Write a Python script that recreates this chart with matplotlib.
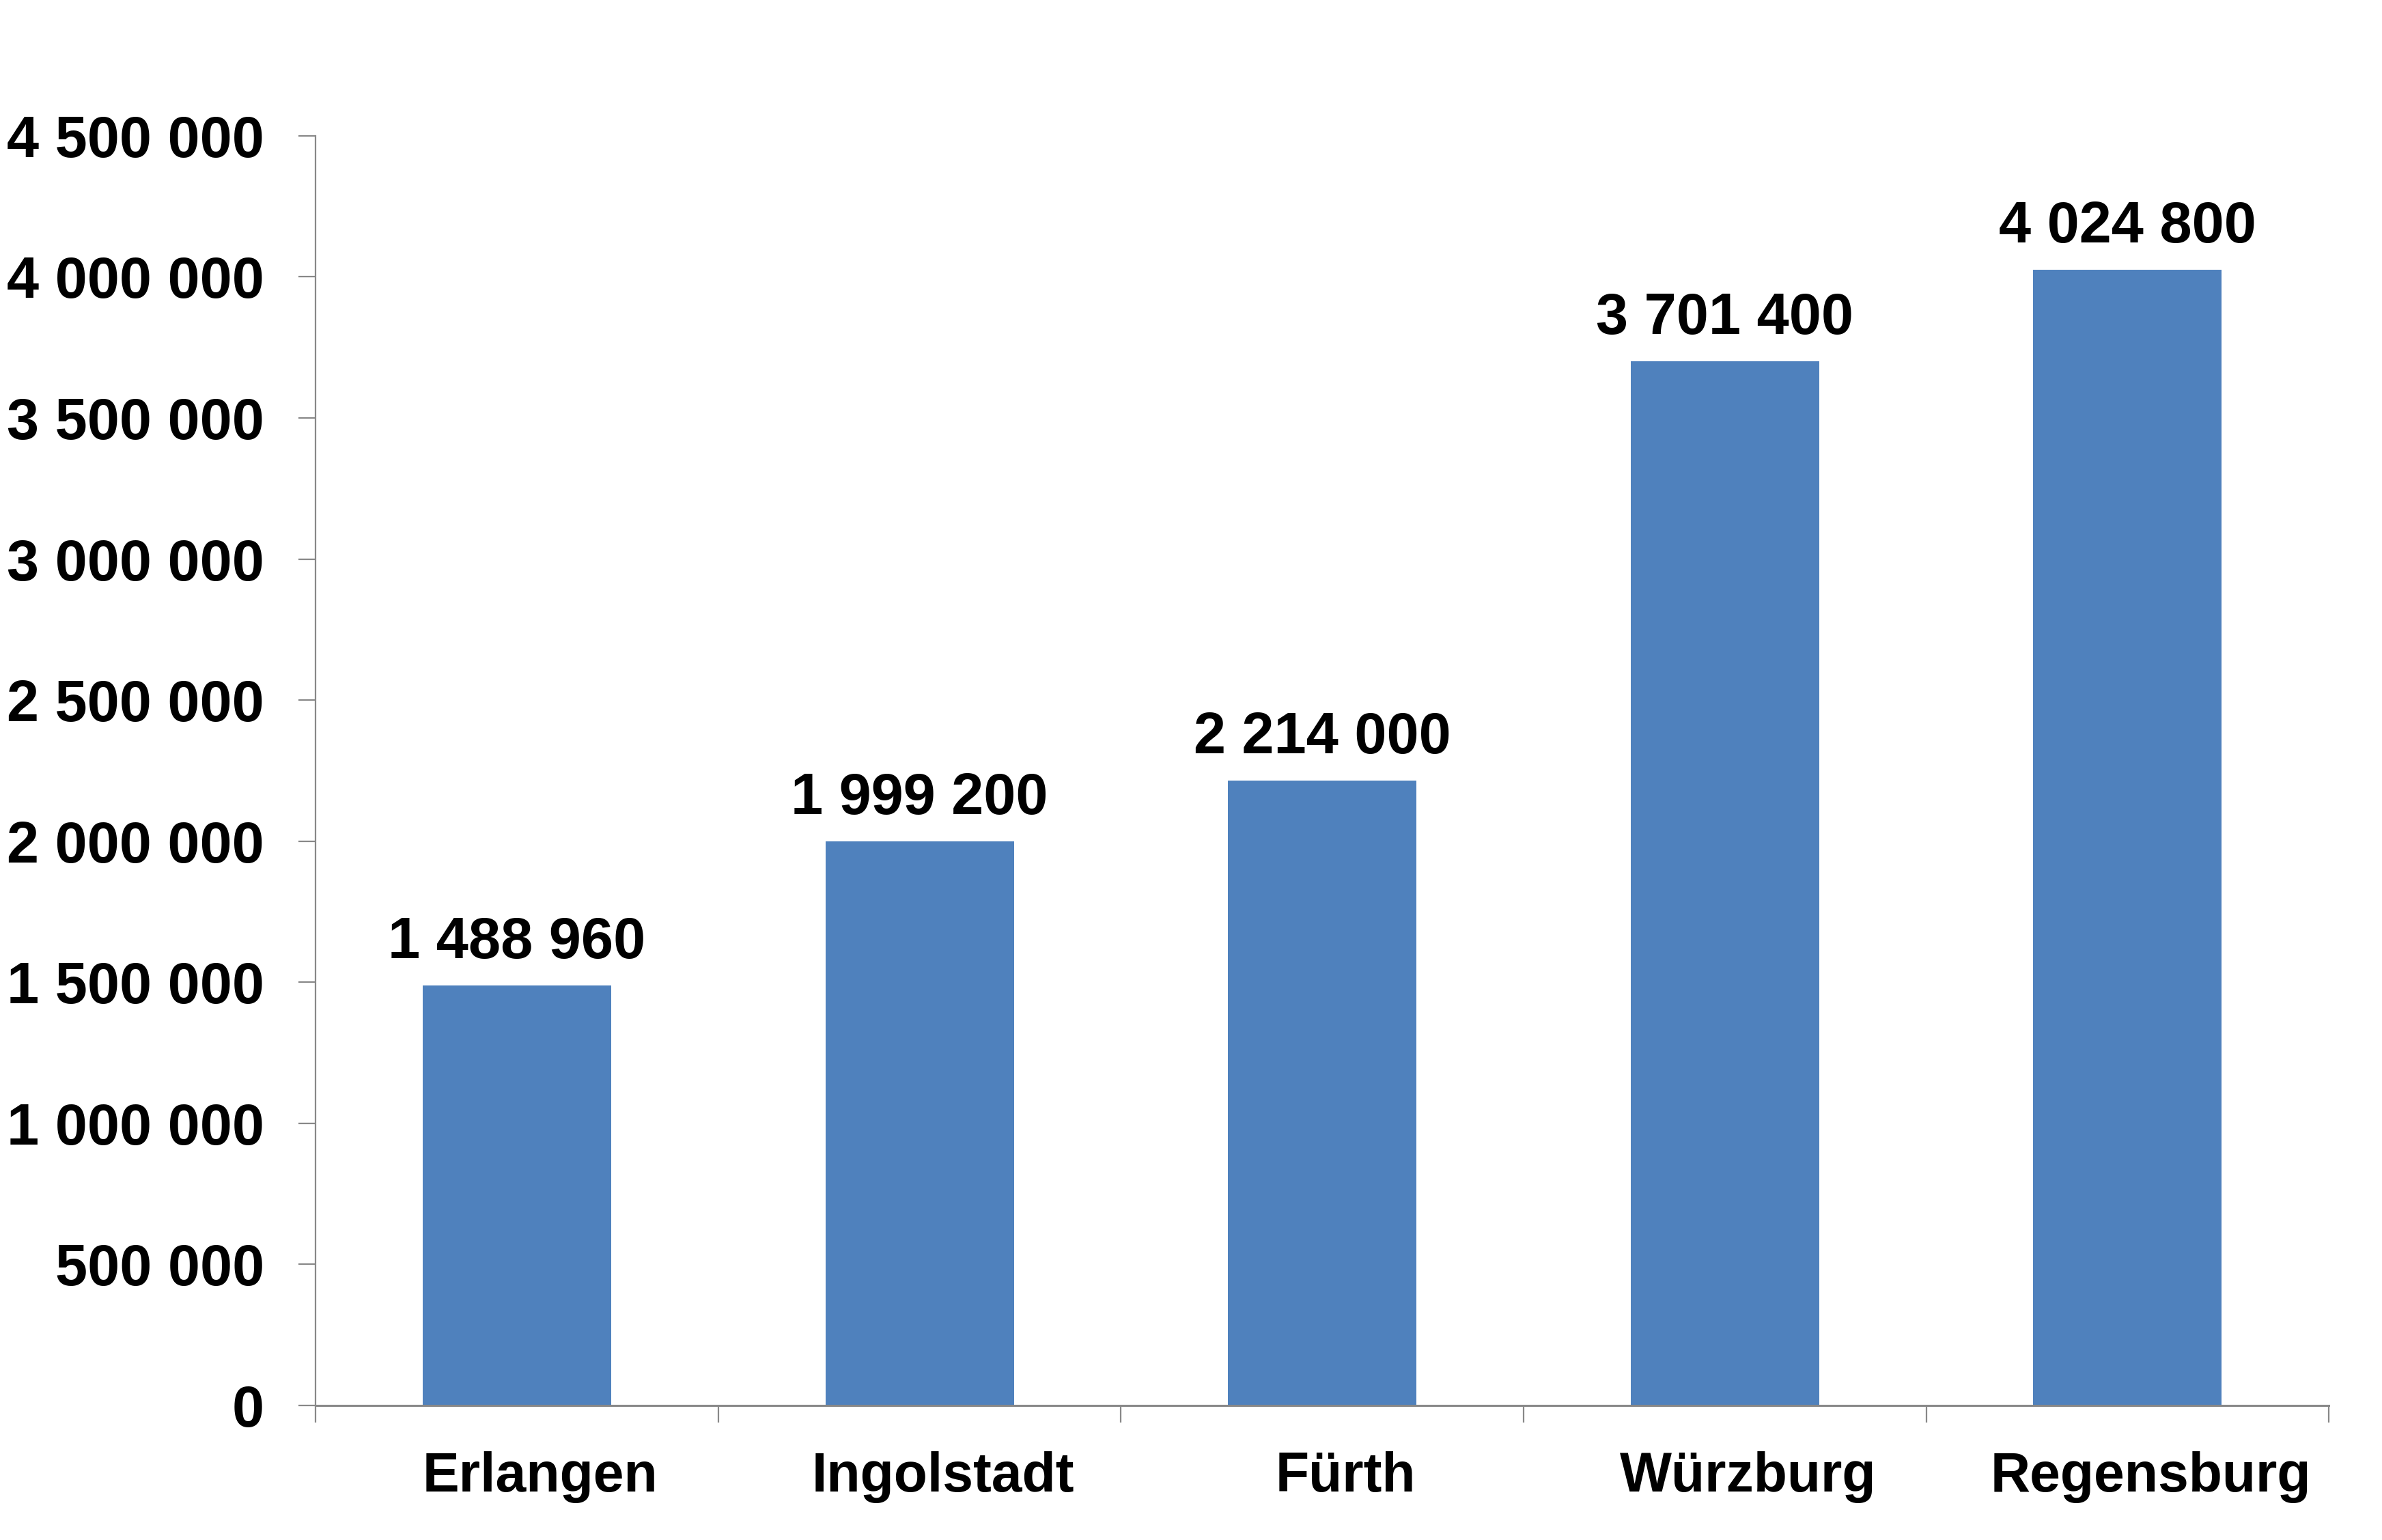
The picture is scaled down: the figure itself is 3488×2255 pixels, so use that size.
import matplotlib.pyplot as plt
import matplotlib.transforms as mtransforms
from matplotlib.ticker import FuncFormatter, FixedLocator

plt.rcParams['font.family'] = ['Liberation Sans', 'DejaVu Sans']
plt.rcParams['font.weight'] = 'bold'

# Data
cities = ["Erlangen", "Ingolstadt", "Fürth", "Würzburg", "Regensburg"]
values = [1488960, 1999200, 2214000, 3701400, 4024800]
y_ticks = [0, 500000, 1000000, 1500000, 2000000, 2500000, 3000000, 3500000, 4000000, 4500000]


def fmt(v, pos=None):
    return f"{int(v):,}".replace(",", " ")


fig = plt.figure(figsize=(34.88, 22.55), dpi=100)
ax = fig.add_axes([0.1325, 0.0874, 0.8452, 0.8244])

x = list(range(len(cities)))
bars = ax.bar(x, values, width=0.468, color="#4F81BD", zorder=2)

# value labels above the bars
for xi, v in zip(x, values):
    ax.annotate(fmt(v), (xi, v), xytext=(0, 16), textcoords="offset points",
                ha="center", va="bottom", fontsize=61, fontweight="bold")

ax.set_xlim(-0.5, len(cities) - 0.5)
ax.set_ylim(0, 4500000)
ax.yaxis.set_major_locator(FixedLocator(y_ticks))
ax.yaxis.set_major_formatter(FuncFormatter(fmt))

ax.set_xticks(x)
ax.set_xticklabels(cities)
ax.xaxis.set_minor_locator(FixedLocator([i - 0.5 for i in range(len(cities) + 1)]))

for s in ["top", "right"]:
    ax.spines[s].set_visible(False)
ax.spines["left"].set_color("#888888")
ax.spines["left"].set_linewidth(1.6)
ax.spines["bottom"].set_color("#888888")
ax.spines["bottom"].set_linewidth(2.2)

ax.tick_params(axis="y", length=18, width=1.6, color="#888888", pad=36, labelsize=61)
ax.tick_params(axis="x", which="major", length=0, pad=48, labelsize=58)
ax.tick_params(axis="x", which="minor", length=18, width=1.6, color="#888888")

# Excel shifts the category labels slightly to the right
offset = mtransforms.ScaledTranslation(0.34, 0, fig.dpi_scale_trans)
for lab in ax.get_xticklabels():
    lab.set_transform(lab.get_transform() + offset)
    lab.set_fontweight("bold")
for lab in ax.get_yticklabels():
    lab.set_fontweight("bold")

plt.savefig("out.png", dpi=100)
